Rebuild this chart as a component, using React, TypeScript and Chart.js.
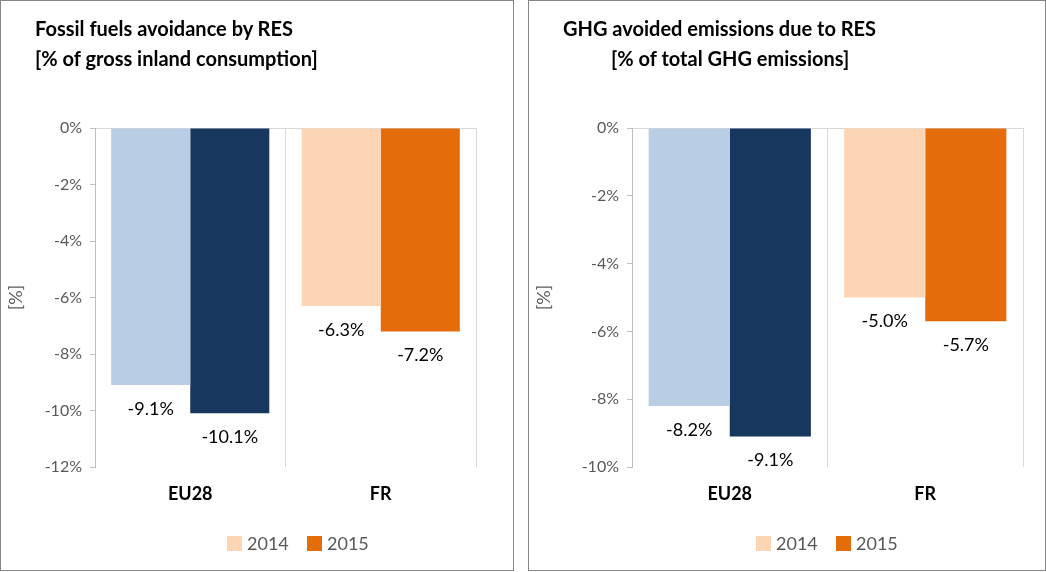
import React, { useEffect, useRef } from "react";
import { Chart, registerables } from "chart.js";
Chart.register(...registerables);

const categories = ["EU28", "FR"];
const fossil2014 = [-9.1, -6.3];
const fossil2015 = [-10.1, -7.2];
const ghg2014 = [-8.2, -5.0];
const ghg2015 = [-9.1, -5.7];
const colors2014 = ["#b9cde5", "#fcd5b5"];
const colors2015 = ["#17375e", "#e46c0a"];
const FONT = "Lato, 'Open Sans', sans-serif";

const labelPlugin = {
  id: "vlabels",
  afterDatasetsDraw(chart: any) {
    const ctx = chart.ctx;
    ctx.save();
    ctx.font = `18px ${FONT}`;
    ctx.fillStyle = "#000";
    ctx.textAlign = "center";
    ctx.textBaseline = "middle";
    chart.data.datasets.forEach((ds: any, i: number) => {
      chart.getDatasetMeta(i).data.forEach((bar: any, j: number) => {
        ctx.fillText(ds.data[j].toFixed(1) + "%", bar.x, bar.y + 24);
      });
    });
    ctx.restore();
  },
};

function Panel(props: {
  left: number; width: number; d14: number[]; d15: number[]; min: number;
  axisW: number; padRight: number; t1: string; t2: string; t2indent: number; legendX: number;
}) {
  const ref = useRef<HTMLCanvasElement>(null);
  useEffect(() => {
    const chart = new Chart(ref.current!, {
      type: "bar",
      data: {
        labels: categories,
        datasets: [
          { label: "2014", data: props.d14, backgroundColor: colors2014, categoryPercentage: 0.83, barPercentage: 1 },
          { label: "2015", data: props.d15, backgroundColor: colors2015, categoryPercentage: 0.83, barPercentage: 1 },
        ],
      },
      options: {
        animation: false,
        responsive: false,
        maintainAspectRatio: false,
        layout: { padding: { top: 127, right: props.padRight, left: 0, bottom: 0 } },
        plugins: { legend: { display: false }, tooltip: { enabled: false } },
        scales: {
          x: {
            afterFit: (s: any) => { s.height = 103; },
            grid: { offset: true, color: "#d9d9d9", drawTicks: false },
            border: { display: false },
            ticks: { color: "#000", font: { family: FONT, size: 18, weight: "bold" }, padding: 16 },
          },
          y: {
            min: props.min, max: 0,
            afterFit: (s: any) => { s.width = props.axisW; },
            ticks: { stepSize: 2, color: "#595959", font: { family: FONT, size: 16 }, padding: 8, callback: (v: any) => v + "%" },
            grid: { color: (c: any) => (c.tick && c.tick.value === 0 ? "#d9d9d9" : "transparent"), tickColor: "#bfbfbf", tickLength: 5 },
            border: { color: "#bfbfbf" },
            title: { display: true, text: "[%]", color: "#595959", font: { family: FONT, size: 18 }, padding: { bottom: 18 } },
          },
        },
      },
      plugins: [labelPlugin],
    } as any);
    return () => chart.destroy();
  }, []);
  const lg = (x: number, c: string, t: string) => (
    <div style={{ position: "absolute", left: x, top: 531, display: "flex", alignItems: "center", color: "#595959", fontSize: 18, fontFamily: FONT }}>
      <span style={{ width: 15, height: 15, background: c, display: "inline-block", marginRight: 5 }} />
      {t}
    </div>
  );
  return (
    <div style={{ position: "absolute", left: props.left, top: 0, width: props.width, height: 571, border: "1px solid #868686", boxSizing: "border-box", background: "#fff" }}>
      <canvas ref={ref} width={props.width - 2} height={569} style={{ position: "absolute", left: 0, top: 0 }} />
      <div style={{ position: "absolute", left: 34, top: 12, fontFamily: FONT, fontWeight: "bold", fontSize: 20, lineHeight: "30px", color: "#000" }}>
        <div>{props.t1}</div>
        <div style={{ paddingLeft: props.t2indent }}>{props.t2}</div>
      </div>
      {lg(props.legendX, colors2014[1], "2014")}
      {lg(props.legendX + 80, colors2015[1], "2015")}
    </div>
  );
}

export default function App() {
  return (
    <div style={{ position: "fixed", left: 0, top: 0, width: 1046, height: 572, background: "#fff" }}>
      <Panel left={0} width={514} d14={fossil2014} d15={fossil2015} min={-12} axisW={94} padRight={37}
        t1="Fossil fuels avoidance by RES" t2="[% of gross inland consumption]" t2indent={0} legendX={226} />
      <Panel left={528} width={518} d14={ghg2014} d15={ghg2015} min={-10} axisW={103} padRight={22}
        t1="GHG avoided emissions due to RES" t2="[% of total GHG emissions]" t2indent={48} legendX={227} />
    </div>
  );
}
